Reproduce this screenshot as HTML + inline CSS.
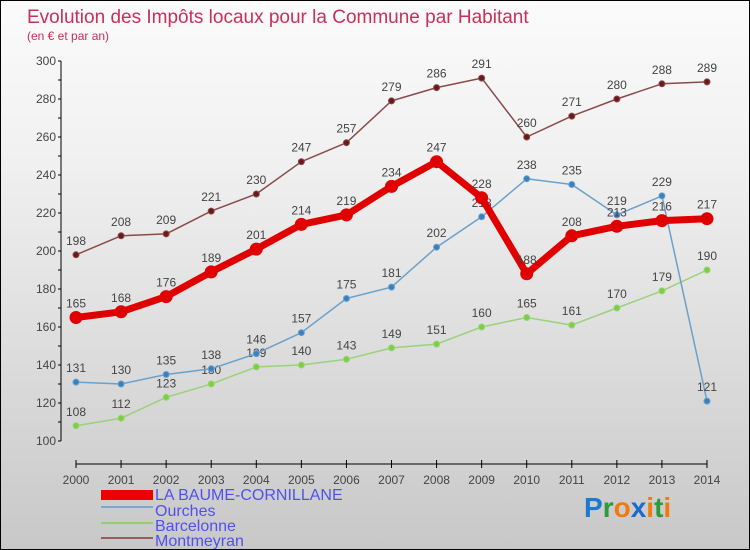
<!DOCTYPE html>
<html><head><meta charset="utf-8"><style>
body{margin:0}
#c{width:748px;height:548px;border:1px solid #000;background:linear-gradient(#fbfbfb,#f0f0f0 30%,#c8c8c8);position:relative;overflow:hidden;font-family:"Liberation Sans",sans-serif}
</style></head><body>
<div id="c">
<svg id="s" width="748" height="548" style="position:absolute;left:0;top:0">
<text x="26" y="22" font-size="19" fill="#c8305a">Evolution des Impôts locaux pour la Commune par Habitant</text>
<text x="26" y="39" font-size="12" fill="#c8305a">(en € et par an)</text>
<g id="g"></g>
<g font-size="16" fill="#5050ee">
<rect x="100" y="489" width="52" height="10" fill="#e00"/>
<text x="154" y="499">LA BAUME-CORNILLANE</text>
<line x1="100" y1="506" x2="152" y2="506" stroke="#7aa8d0" stroke-width="2"/>
<text x="154" y="515">Ourches</text>
<line x1="100" y1="522" x2="152" y2="522" stroke="#90d070" stroke-width="2"/>
<text x="154" y="530">Barcelonne</text>
<line x1="100" y1="537" x2="152" y2="537" stroke="#906060" stroke-width="2"/>
<text x="154" y="545">Montmeyran</text>
</g>
<g font-size="28" font-weight="bold">
<text x="583" y="516"><tspan fill="#1a7ad0">P</tspan><tspan fill="#2a9a3a">r</tspan><tspan fill="#f07a10">o</tspan><tspan fill="#1a6ad0">x</tspan><tspan fill="#f07a10">i</tspan><tspan fill="#2a9a3a">t</tspan><tspan fill="#f07a10">i</tspan></text>
</g>
</svg>
</div>
<script>
const years=[2000,2001,2002,2003,2004,2005,2006,2007,2008,2009,2010,2011,2012,2013,2014];
const yTicks=[100,120,140,160,180,200,220,240,260,280,300];
const baume=[165,168,176,189,201,214,219,234,247,228,188,208,213,216,217];
const ourches=[131,130,135,138,146,157,175,181,202,218,238,235,219,229,121];
const barcelonne=[108,112,123,130,139,140,143,149,151,160,165,161,170,179,190];
const montmeyran=[198,208,209,221,230,247,257,279,286,291,260,271,280,288,289];
const NS="http://www.w3.org/2000/svg";
const g=document.getElementById('g');
const X=i=>75+i*(631/14);
const Y=v=>440-(v-100)*1.9;
function el(t,a){const e=document.createElementNS(NS,t);for(const k in a)e.setAttribute(k,a[k]);g.appendChild(e);return e;}
// axes
let ya=el('line',{x1:60,y1:60,x2:60,y2:440,stroke:'#000'});


yTicks.forEach(v=>{
 el('line',{x1:57,y1:Y(v),x2:60,y2:Y(v),stroke:'#000'});
 if(v<300)el('line',{x1:57,y1:Y(v+10),x2:60,y2:Y(v+10),stroke:'#000'});
 const t=el('text',{x:55,y:Y(v)+4,'font-size':12,'text-anchor':'end',fill:'#444'});t.textContent=v;
 
 
});
let xa=el('line',{x1:75,y1:463,x2:706,y2:463,stroke:'#000'});


years.forEach((y,i)=>{
 el('line',{x1:X(i),y1:459,x2:X(i),y2:467,stroke:'#000'});
 const t=el('text',{x:X(i),y:483,'font-size':12,'text-anchor':'middle',fill:'#444'});t.textContent=y;
 
 
});
function series(d,color,dot,w,r,name){
 const p=el('polyline',{points:d.map((v,i)=>X(i)+','+Y(v)).join(' '),fill:'none',stroke:color,'stroke-width':w,'stroke-linejoin':'round'});
 
 
 d.forEach((v,i)=>{
  const c=el('circle',{cx:X(i),cy:Y(v),r:r,fill:dot,stroke:color,'stroke-width':1});
  
  
  const t=el('text',{x:X(i),y:Y(v)-10,'font-size':12,'text-anchor':'middle',fill:'#444'});t.textContent=v;
  
  
 });
}
series(montmeyran,'#8a4a4a','#6a1a1a',1.5,3,'montmeyran');
series(barcelonne,'#9ad27a','#7ad040',1.5,3,'barcelonne');
series(ourches,'#6aa0cc','#3a80c0',1.5,3,'ourches');
series(baume,'#e00000','#e00000',7,6,'la-baume');
</script>
</body></html>
